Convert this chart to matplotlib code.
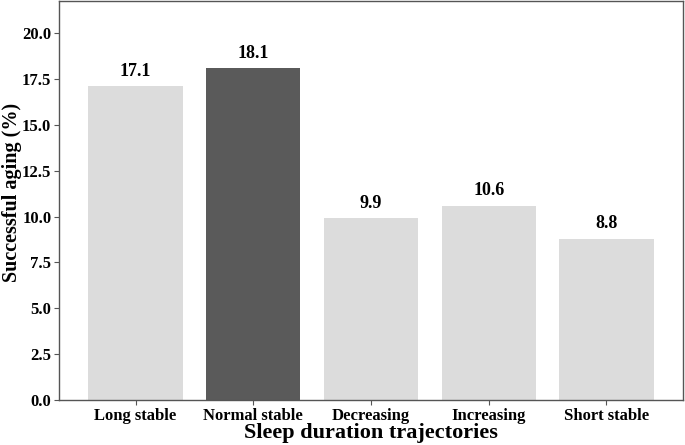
import matplotlib
matplotlib.use("Agg")
import matplotlib.pyplot as plt

categories = ["Long stable", "Normal stable", "Decreasing", "Increasing", "Short stable"]
values = [17.1, 18.1, 9.9, 10.6, 8.8]
colors = ["#dcdcdc", "#5a5a5a", "#dcdcdc", "#dcdcdc", "#dcdcdc"]
yticks = [0.0, 2.5, 5.0, 7.5, 10.0, 12.5, 15.0, 17.5, 20.0]

plt.rcParams['font.family'] = ['Liberation Serif', 'DejaVu Serif']
plt.rcParams['font.weight'] = 'bold'

fig = plt.figure(figsize=(6.85, 4.45), dpi=100)
ax = fig.add_axes([59/685, 45/445, 624/685, 399/445])
x = range(len(categories))
bars = ax.bar(x, values, width=0.8, color=colors)
for xi, v in zip(x, values):
    ax.text(xi, v + 0.35, f"{v:.1f}", ha='center', va='bottom', fontsize=13, fontweight='bold')
ax.set_xticks(list(x))
ax.set_xticklabels(categories, fontsize=12, fontweight='bold')
ax.set_yticks(yticks)
ax.set_yticklabels([f"{t:.1f}" for t in yticks], fontsize=12, fontweight='bold')
ax.set_ylim(0, 21.75)
ax.set_xlim(-0.65, 4.65)
ax.set_ylabel("Successful aging (%)", fontsize=14.5, fontweight='bold')
ax.set_xlabel("Sleep duration trajectories", fontsize=16, fontweight='bold')
ax.yaxis.set_label_coords(-0.06, 0.52)
ax.xaxis.set_label_coords(0.5, -0.058)
for s in ax.spines.values():
    s.set_color('#555555')
    s.set_linewidth(1.0)
ax.tick_params(axis='both', colors='#555555', labelcolor='black', length=3.5, width=0.8, pad=2)
fig.savefig("out.png", dpi=100)
